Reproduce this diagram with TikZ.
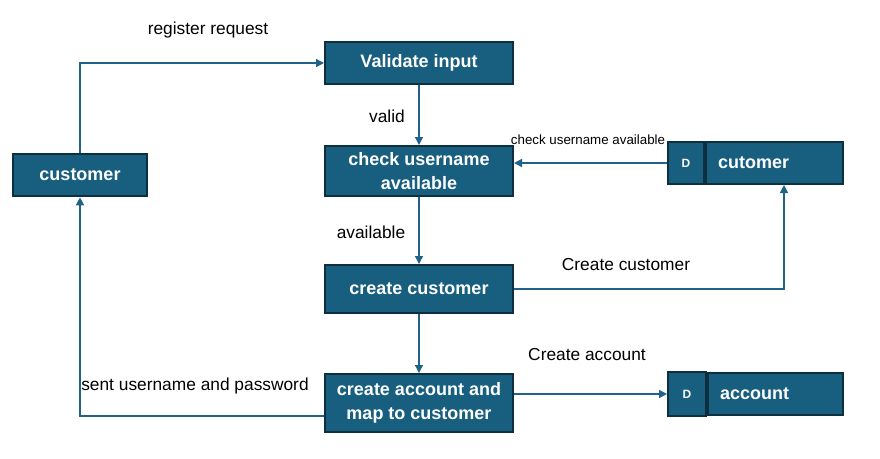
\documentclass[tikz,border=0pt]{standalone}
\usepackage{fontspec}
\setmainfont{Liberation Sans}
\usetikzlibrary{arrows.meta}
\definecolor{boxfill}{HTML}{175E7F}
\definecolor{boxline}{HTML}{0E2F40}
\definecolor{flowline}{HTML}{1F6388}
\begin{document}
\begin{tikzpicture}[x=0.75pt,y=-0.75pt,
    proc/.style={draw=boxline,fill=boxfill,line width=1.5pt,text=white,
      font=\bfseries\fontsize{13.5}{17.5}\selectfont,align=center,
      inner sep=0pt,minimum width=141pt},
    dtag/.style={draw=boxline,fill=boxfill,line width=1.5pt,text=white,
      font=\bfseries\fontsize{9}{11}\selectfont,inner sep=0pt,
      minimum width=27pt,anchor=east},
    dstore/.style={draw=boxline,fill=boxfill,line width=1.5pt,text=white,
      font=\bfseries\fontsize{13.5}{17.5}\selectfont,align=left,
      inner xsep=9pt,inner ysep=0pt,text width=84.75pt,anchor=west},
    lbl/.style={font=\fontsize{13}{15}\selectfont},
    flow/.style={draw=flowline,line width=1.1pt,-{Triangle[length=6pt,width=6pt]}}]
  \useasboundingbox (0,0) rectangle (880,458);
  % process boxes
  \node[proc,minimum height=31.5pt] (valid) at (419,63) {Validate input};
  \node[proc,minimum height=37.5pt] (check) at (419,171) {check username\\available};
  \node[proc,minimum height=36pt] (create) at (419,289) {create customer};
  \node[proc,minimum height=43.5pt] (acct) at (419,403) {create account and\\map to customer};
  \node[proc,minimum height=32pt,minimum width=100.5pt] (cust) at (80,175) {customer};
  % data stores
  \node[dtag,minimum height=31.5pt] (dcust) at (705,163) {D};
  \node[dstore,minimum height=31.5pt] (store1) at (705,163) {cutomer};
  \node[dtag,minimum height=32.5pt,minimum width=28.5pt] (dacct) at (707,394) {D};
  \node[dstore,minimum height=31.5pt,text width=83.25pt] (store2) at (707,394) {account};
  % flows
  \draw[flow] (cust.north) |- (valid.west);
  \draw[flow] (valid) -- (check);
  \draw[flow] (dcust.west) -- (dcust.west -| check.east);
  \draw[flow] (check) -- (create);
  \draw[flow] (create.east) -| (784,0 |- store1.south);
  \draw[flow] (create) -- (acct);
  \draw[flow] (acct.east |- dacct.west) -- (dacct.west);
  \draw[flow] (acct.west |- 0,416) -| (cust.south);
  % labels
  \node[lbl] (l1) at (208,30) {register request};
  \node[lbl] (l2) at (387,116) {valid};
  \node[lbl,font=\fontsize{10}{12}\selectfont] (l3) at (588,140) {check username available};
  \node[lbl] (l4) at (371,232) {available};
  \node[lbl] (l5) at (626,265) {Create customer};
  \node[lbl] (l6) at (587,355) {Create account};
  \node[lbl] (l7) at (195,386) {sent username and password};
\end{tikzpicture}
\end{document}
